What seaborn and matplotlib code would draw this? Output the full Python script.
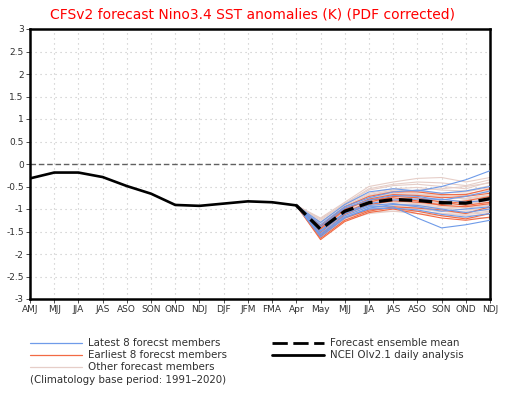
import numpy as np
import pandas as pd
import matplotlib
matplotlib.use('Agg')
import matplotlib.pyplot as plt
import seaborn as sns

sns.set_style('white')
plt.rcParams['font.family'] = ['DejaVu Sans']

months = ['AMJ', 'MJJ', 'JJA', 'JAS', 'ASO', 'SON', 'OND', 'NDJ', 'DJF', 'JFM',
          'FMA', 'Apr', 'May', 'MJJ', 'JJA', 'JAS', 'ASO', 'SON', 'OND', 'NDJ']

# observed (NCEI OIv2.1), AMJ .. Apr
observed = [-0.32, -0.19, -0.19, -0.29, -0.49, -0.66, -0.91, -0.93, -0.88, -0.83, -0.85, -0.92]

# forecast members, May .. NDJ (start from last observed value)
latest = [
    [-1.30, -0.90, -0.62, -0.55, -0.60, -0.50, -0.35, -0.15],
    [-1.55, -1.15, -0.95, -0.95, -1.20, -1.42, -1.35, -1.25],
    [-1.40, -0.98, -0.80, -0.70, -0.72, -0.80, -0.72, -0.60],
    [-1.50, -1.10, -0.92, -0.88, -0.95, -1.05, -1.00, -0.95],
    [-1.62, -1.20, -0.98, -0.90, -0.92, -1.00, -1.08, -1.00],
    [-1.35, -0.95, -0.75, -0.62, -0.58, -0.65, -0.60, -0.50],
    [-1.48, -1.08, -0.88, -0.80, -0.78, -0.78, -0.85, -0.80],
    [-1.58, -1.18, -1.00, -0.98, -1.02, -1.12, -1.18, -1.10],
]
earliest = [
    [-1.60, -1.20, -1.02, -0.98, -1.05, -1.15, -1.22, -1.10],
    [-1.45, -1.02, -0.78, -0.68, -0.70, -0.75, -0.72, -0.65],
    [-1.65, -1.25, -1.05, -0.95, -0.98, -1.02, -1.10, -0.95],
    [-1.38, -0.95, -0.72, -0.62, -0.62, -0.68, -0.68, -0.55],
    [-1.52, -1.08, -0.85, -0.72, -0.75, -0.85, -0.92, -0.85],
    [-1.58, -1.12, -0.90, -0.82, -0.85, -0.90, -0.82, -0.72],
    [-1.42, -1.00, -0.80, -0.75, -0.82, -0.92, -0.95, -0.88],
    [-1.68, -1.28, -1.08, -1.00, -1.10, -1.20, -1.25, -1.18],
]
others = [
    [-1.20, -0.85, -0.50, -0.40, -0.32, -0.30, -0.40, -0.30],
    [-1.25, -0.88, -0.58, -0.48, -0.45, -0.50, -0.55, -0.40],
    [-1.30, -0.90, -0.65, -0.55, -0.52, -0.58, -0.60, -0.48],
    [-1.35, -0.95, -0.70, -0.60, -0.62, -0.68, -0.70, -0.62],
    [-1.40, -1.00, -0.78, -0.72, -0.75, -0.80, -0.82, -0.78],
    [-1.42, -1.00, -0.82, -0.78, -0.80, -0.88, -0.90, -0.85],
    [-1.45, -1.05, -0.88, -0.85, -0.88, -0.92, -0.95, -0.90],
    [-1.48, -1.10, -0.92, -0.90, -0.90, -0.95, -0.98, -0.92],
    [-1.50, -1.12, -0.95, -0.95, -0.98, -1.05, -1.10, -1.05],
    [-1.52, -1.15, -1.00, -1.00, -1.05, -1.10, -1.15, -1.12],
    [-1.55, -1.18, -1.05, -1.05, -1.10, -1.15, -1.20, -1.20],
    [-1.60, -1.25, -1.10, -1.05, -1.05, -1.10, -1.12, -1.08],
    [-1.35, -0.98, -0.78, -0.65, -0.58, -0.55, -0.50, -0.42],
    [-1.40, -1.02, -0.82, -0.70, -0.68, -0.72, -0.78, -0.70],
    [-1.45, -1.05, -0.85, -0.80, -0.85, -0.85, -0.80, -0.75],
    [-1.50, -1.08, -0.90, -0.82, -0.82, -0.86, -0.88, -0.82],
    [-1.28, -0.92, -0.68, -0.58, -0.60, -0.65, -0.62, -0.52],
    [-1.55, -1.15, -0.95, -0.88, -0.92, -0.98, -1.02, -0.98],
    [-1.38, -0.98, -0.76, -0.68, -0.70, -0.74, -0.76, -0.68],
    [-1.62, -1.22, -1.02, -0.96, -1.00, -1.06, -1.05, -1.02],
    [-1.32, -0.95, -0.72, -0.66, -0.66, -0.70, -0.66, -0.58],
    [-1.46, -1.06, -0.86, -0.78, -0.78, -0.82, -0.86, -0.80],
    [-1.22, -0.88, -0.55, -0.45, -0.40, -0.42, -0.48, -0.35],
    [-1.58, -1.20, -1.02, -0.92, -0.95, -1.00, -0.95, -0.90],
]
ens_mean = [-1.45, -1.05, -0.86, -0.79, -0.81, -0.86, -0.87, -0.77]

c_latest = '#6f9be9'
c_early = '#f26a44'
c_other = '#e6cec8'


def members_df(members):
    rows = []
    start = len(observed) - 1
    for m, vals in enumerate(members):
        series = [observed[-1]] + vals
        for k, v in enumerate(series):
            rows.append({'member': m, 'x': start + k, 'y': v})
    return pd.DataFrame(rows)


fig = plt.figure(figsize=(5.06, 3.93), dpi=100)
ax = fig.add_axes([30 / 506, 1 - 299 / 393, 460 / 506, 270 / 393])

# grid
for xi in range(1, len(months) - 1):
    ax.axvline(xi, color='#c4c4c4', lw=0.8, ls=(0, (1, 3.5)), zorder=0)
for yi in np.arange(-2.5, 3.0, 0.5):
    if abs(yi) > 1e-9:
        ax.axhline(yi, color='#c4c4c4', lw=0.8, ls=(0, (1, 3.5)), zorder=0)
ax.axhline(0, color='#606060', lw=1.0, ls=(0, (4, 2)), zorder=0.5)

sns.lineplot(data=members_df(others), x='x', y='y', units='member', estimator=None,
             color=c_other, lw=0.8, ax=ax, zorder=1)
sns.lineplot(data=members_df(earliest), x='x', y='y', units='member', estimator=None,
             color=c_early, lw=0.8, ax=ax, zorder=2)
sns.lineplot(data=members_df(latest), x='x', y='y', units='member', estimator=None,
             color=c_latest, lw=0.8, ax=ax, zorder=3)

obs_df = pd.DataFrame({'x': range(len(observed)), 'y': observed})
sns.lineplot(data=obs_df, x='x', y='y', color='black', lw=1.9, ax=ax, zorder=5)

mean_df = pd.DataFrame({'x': range(len(observed) - 1, len(months)),
                        'y': [observed[-1]] + ens_mean})
sns.lineplot(data=mean_df, x='x', y='y', color='black', lw=2.4, ls=(0, (4, 2)), ax=ax, zorder=6)

ax.set_xlim(0, len(months) - 1)
ax.set_ylim(-3, 3)
ax.set_xticks(range(len(months)))
ax.set_xticklabels(months)
yt = np.arange(-3, 3.01, 0.5)
ax.set_yticks(yt)
ax.set_yticklabels(['%g' % v for v in yt])
ax.tick_params(axis='both', labelsize=6.5, colors='#303030', length=3, width=0.6,
               direction='out', pad=1.5, left=True, bottom=True)
ax.set_xlabel('')
ax.set_ylabel('')
for s in ax.spines.values():
    s.set_linewidth(1.8)
    s.set_color('black')

fig.text(0.5, 1 - 15 / 393, 'CFSv2 forecast Nino3.4 SST anomalies (K) (PDF corrected)',
         color='red', fontsize=10, ha='center', va='center')

# legend
def leg_line(x0, x1, y, color, lw, ls='-'):
    fig.add_artist(plt.Line2D([x0 / 506, x1 / 506], [1 - y / 393, 1 - y / 393],
                              color=color, lw=lw, ls=ls))


def leg_text(x, y, s):
    fig.text(x / 506, 1 - y / 393, s, fontsize=7.4, color='#303030', va='center', ha='left')


leg_line(30, 82, 343, c_latest, 0.9)
leg_text(88, 343, 'Latest 8 forecst members')
leg_line(30, 82, 355, c_early, 0.9)
leg_text(88, 355, 'Earliest 8 forecst members')
leg_line(30, 82, 367, c_other, 0.9)
leg_text(88, 367, 'Other forecast members')
leg_text(30, 380, '(Climatology base period: 1991\u20132020)')
leg_line(272, 324, 343, 'black', 2.0, (0, (5.5, 2)))
leg_text(330, 343, 'Forecast ensemble mean')
leg_line(272, 324, 355, 'black', 2.0)
leg_text(330, 355, 'NCEI OIv2.1 daily analysis')

fig.savefig('out.png', dpi=100)
